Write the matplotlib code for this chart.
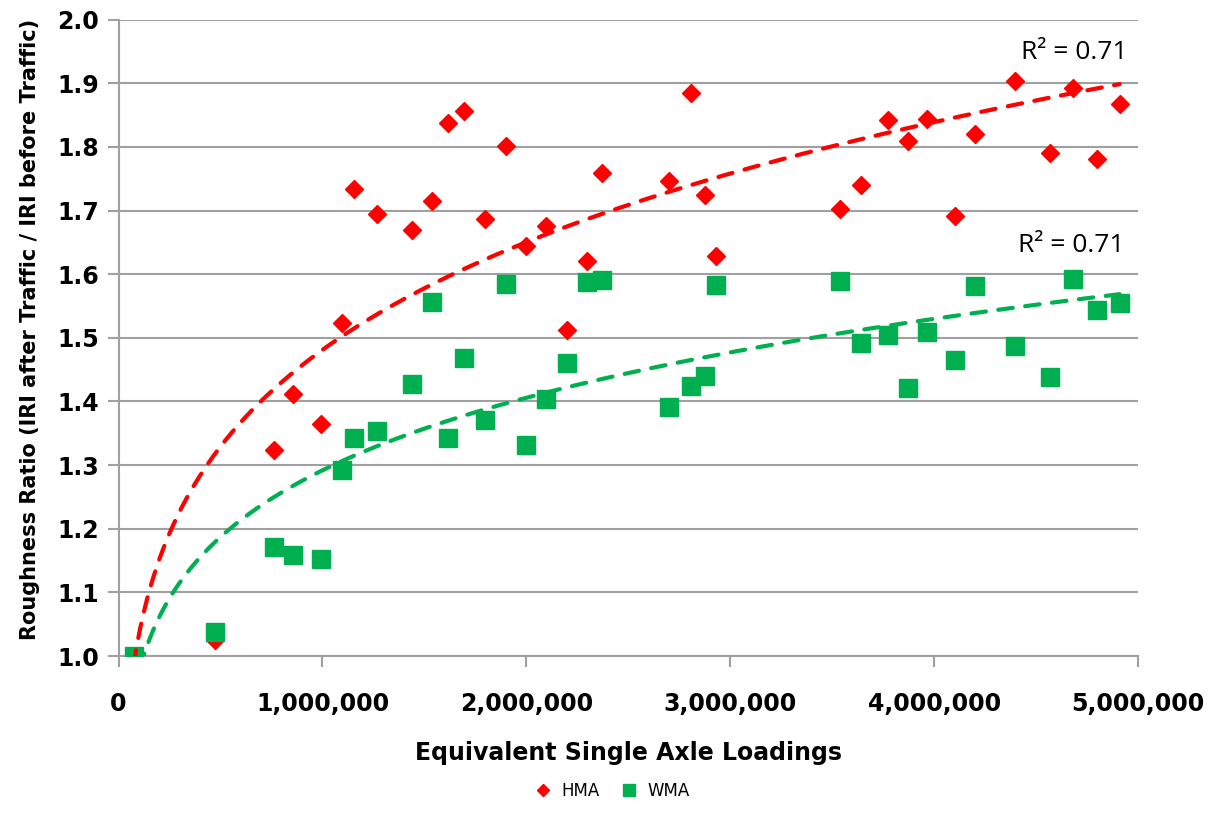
import numpy as np
import matplotlib.pyplot as plt
from matplotlib.ticker import FuncFormatter

# ESAL values shared by both mixes
esal = np.array([0.074, 0.473, 0.763, 0.855, 0.992, 1.094, 1.154, 1.265, 1.437, 1.538,
                 1.616, 1.695, 1.796, 1.899, 1.999, 2.098, 2.200, 2.298, 2.373, 2.701,
                 2.806, 2.876, 2.928, 3.540, 3.639, 3.775, 3.870, 3.966, 4.103, 4.200,
                 4.394, 4.566, 4.682, 4.800, 4.909]) * 1e6

hma = np.array([1.000, 1.025, 1.324, 1.412, 1.365, 1.523, 1.734, 1.694, 1.670, 1.715,
                1.838, 1.856, 1.686, 1.801, 1.644, 1.676, 1.513, 1.620, 1.759, 1.747,
                1.885, 1.725, 1.629, 1.702, 1.740, 1.843, 1.810, 1.844, 1.692, 1.820,
                1.904, 1.791, 1.893, 1.781, 1.867])

wma = np.array([1.000, 1.038, 1.172, 1.159, 1.153, 1.292, 1.343, 1.353, 1.427, 1.557,
                1.343, 1.468, 1.371, 1.585, 1.331, 1.404, 1.461, 1.587, 1.591, 1.391,
                1.425, 1.440, 1.583, 1.589, 1.492, 1.504, 1.421, 1.509, 1.465, 1.582,
                1.487, 1.439, 1.592, 1.543, 1.554])

r2_labels = ['R² = 0.71', 'R² = 0.71']

red = '#FF0000'
green = '#00B050'
plt.rcParams['font.family'] = ['Liberation Sans Narrow', 'DejaVu Sans']

fig = plt.figure(figsize=(12.16, 8.19), dpi=100)
ax = fig.add_axes([0.0975, 0.199, 0.8385, 0.777])

# data points
ax.plot(esal, hma, linestyle='none', marker='D', markersize=9.5, color=red, label='HMA', zorder=3)
ax.plot(esal, wma, linestyle='none', marker='s', markersize=13.5, color=green, label='WMA', zorder=3)

# power trendlines (fit of ln y on ln x)
xs = np.linspace(esal.min(), esal.max(), 300)
for y, c in [(hma, red), (wma, green)]:
    b, ln_c = np.polyfit(np.log(esal), np.log(y), 1)
    ln, = ax.plot(xs, np.exp(ln_c) * xs ** b, color=c, linewidth=3, zorder=4)
    ln.set_dashes((3.5, 3))
    ln.set_dash_capstyle('round')

ax.text(0.99, 0.948, r2_labels[0], transform=ax.transAxes, ha='right', va='center',
        fontsize=19, family=['Open Sans', 'DejaVu Sans'])
ax.text(0.987, 0.645, r2_labels[1], transform=ax.transAxes, ha='right', va='center',
        fontsize=19, family=['Open Sans', 'DejaVu Sans'])

ax.set_xlim(0, 5e6)
ax.set_ylim(1.0, 2.0)
ax.set_xticks(np.arange(0, 5e6 + 1, 1e6))
ax.set_yticks(np.arange(1.0, 2.01, 0.1))
ax.xaxis.set_major_formatter(FuncFormatter(lambda v, p: f'{v:,.0f}'))
ax.yaxis.set_major_formatter(FuncFormatter(lambda v, p: f'{v:.1f}'))

ax.grid(axis='y', color='#a0a0a0', linewidth=1.5)
ax.set_axisbelow(True)
for s in ['top', 'right']:
    ax.spines[s].set_visible(False)
for s in ['left', 'bottom']:
    ax.spines[s].set_color('#a0a0a0')
    ax.spines[s].set_linewidth(1.5)
ax.tick_params(axis='both', colors='#a0a0a0', width=1.5, length=8, labelsize=17)
ax.tick_params(axis='x', pad=18)
ax.tick_params(axis='y', pad=6)
for lbl in ax.get_xticklabels() + ax.get_yticklabels():
    lbl.set_color('black')
    lbl.set_fontweight('bold')

ax.set_xlabel('Equivalent Single Axle Loadings', fontsize=17, fontweight='bold', labelpad=18)
ax.set_ylabel('Roughness Ratio (IRI after Traffic / IRI before Traffic)', fontsize=15,
              fontweight='bold')
ax.yaxis.set_label_coords(-0.077, 0.513)

fig.legend(loc='lower center', bbox_to_anchor=(0.5, 0.005), ncol=2, frameon=False,
           fontsize=12, handletextpad=0.1, columnspacing=0.8, markerscale=0.6)

fig.savefig('out.png', dpi=100)
